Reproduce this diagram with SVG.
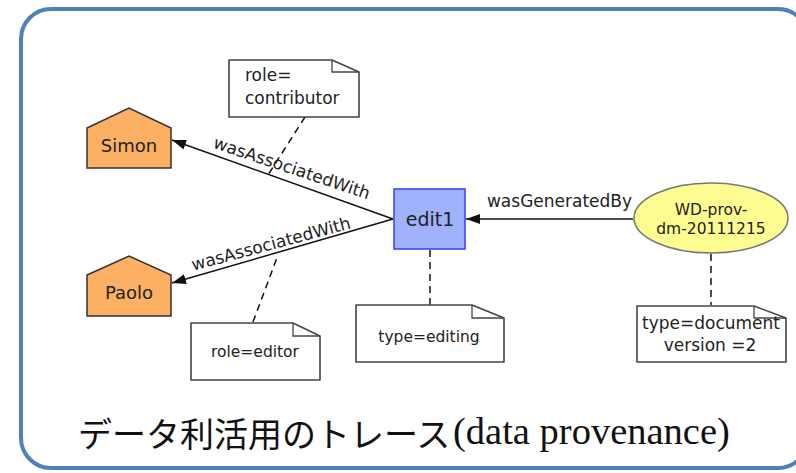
<svg xmlns="http://www.w3.org/2000/svg" width="796" height="473" viewBox="0 0 796 473">
  <style>
    .sans { font-family: "DejaVu Sans", "Liberation Sans", sans-serif; fill: #222; }
    .edge { stroke: #111; stroke-width: 1.5; fill: none; }
    .dash { stroke: #111; stroke-width: 1.5; fill: none; stroke-dasharray: 7 5; }
    .agent { fill: #fbb063; stroke: #333; stroke-width: 1.5; }
    .note { fill: #fff; stroke: #444; stroke-width: 1.6; stroke-linejoin: round; }
    .fold { fill: none; stroke: #444; stroke-width: 1.3; }
    .elabel { font-size: 17px; }
  </style>
  <defs>
    <marker id="arrow" markerUnits="userSpaceOnUse" markerWidth="14" markerHeight="10" viewBox="0 0 14 10" refX="14" refY="5" orient="auto">
      <path d="M0,0 L14,5 L0,10 Z" fill="#111"/>
    </marker>
  </defs>

  <!-- frame -->
  <rect x="21" y="9" width="787" height="459" rx="30" ry="30" fill="#fff" stroke="#4f81bd" stroke-width="4"/>

  <!-- connectors -->
  <g id="connectors">
    <line class="edge" x1="393" y1="219" x2="172" y2="140" marker-end="url(#arrow)"/>
    <line class="edge" x1="393" y1="219" x2="172" y2="283" marker-end="url(#arrow)"/>
    <line class="edge" x1="633" y1="219" x2="466" y2="219" marker-end="url(#arrow)"/>
    <line class="dash" x1="305" y1="117" x2="268" y2="175"/>
    <line class="dash" x1="253" y1="322" x2="278" y2="255"/>
    <line class="dash" x1="430" y1="250" x2="430" y2="305"/>
    <line class="dash" x1="711" y1="254" x2="711" y2="305"/>
    <text class="sans elabel" text-anchor="middle" transform="translate(290,173.5) rotate(18.5)">wasAssociatedWith</text>
    <text class="sans elabel" text-anchor="middle" transform="translate(272.5,249.5) rotate(-15)">wasAssociatedWith</text>
    <text class="sans elabel" text-anchor="middle" x="559.5" y="207">wasGeneratedBy</text>
  </g>

  <!-- agents -->
  <g id="simon">
    <polygon class="agent" points="87,128 129,108 171,128 171,168 87,168"/>
    <text class="sans" x="129" y="152" font-size="18" text-anchor="middle">Simon</text>
  </g>
  <g id="paolo">
    <polygon class="agent" points="87,275 129,256 171,275 171,316 87,316"/>
    <text class="sans" x="129" y="299" font-size="18" text-anchor="middle">Paolo</text>
  </g>

  <!-- activity -->
  <g id="edit1">
    <rect x="394" y="189" width="71" height="60" fill="#9fb2fb" stroke="#3a3aff" stroke-width="1.5"/>
    <text class="sans" x="430" y="226" font-size="19" text-anchor="middle">edit1</text>
  </g>

  <!-- entity -->
  <g id="wd-prov">
    <ellipse cx="711" cy="218" rx="77" ry="35" fill="#fdfc90" stroke="#777" stroke-width="1.5"/>
    <text class="sans" x="711" y="215" font-size="15.5" text-anchor="middle">WD-prov-</text>
    <text class="sans" x="711" y="234" font-size="15.5" text-anchor="middle">dm-20111215</text>
  </g>

  <!-- attribute notes -->
  <g id="note-contributor">
    <path class="note" d="M229,60 H332 L359,72 V117 H229 Z"/>
    <path class="fold" d="M332,60 V72 H359"/>
    <text class="sans" x="245" y="81" font-size="17">role=</text>
    <text class="sans" x="245" y="104" font-size="17">contributor</text>
  </g>
  <g id="note-editor">
    <path class="note" d="M191,323 H293 L320,336 V380 H191 Z"/>
    <path class="fold" d="M293,323 V336 H320"/>
    <text class="sans" x="255" y="357" font-size="15.5" text-anchor="middle">role=editor</text>
  </g>
  <g id="note-editing">
    <path class="note" d="M356,305 H472 L504,318 V362 H356 Z"/>
    <path class="fold" d="M472,305 V318 H504"/>
    <text class="sans" x="429" y="342" font-size="15.5" text-anchor="middle">type=editing</text>
  </g>
  <g id="note-document">
    <path class="note" d="M637,306 H754 L786,318 V362 H637 Z"/>
    <path class="fold" d="M754,306 V318 H786"/>
    <text class="sans" x="711" y="329" font-size="17" text-anchor="middle">type=document</text>
    <text class="sans" x="710" y="351" font-size="17" text-anchor="middle">version =2</text>
  </g>

  <!-- caption -->
  <text x="78" y="447" font-size="34" fill="#111" font-family="'Liberation Serif', 'Noto Sans CJK JP', serif">データ利活用のトレース<tspan x="453" y="444" font-size="38.5">(data provenance)</tspan></text>
</svg>
